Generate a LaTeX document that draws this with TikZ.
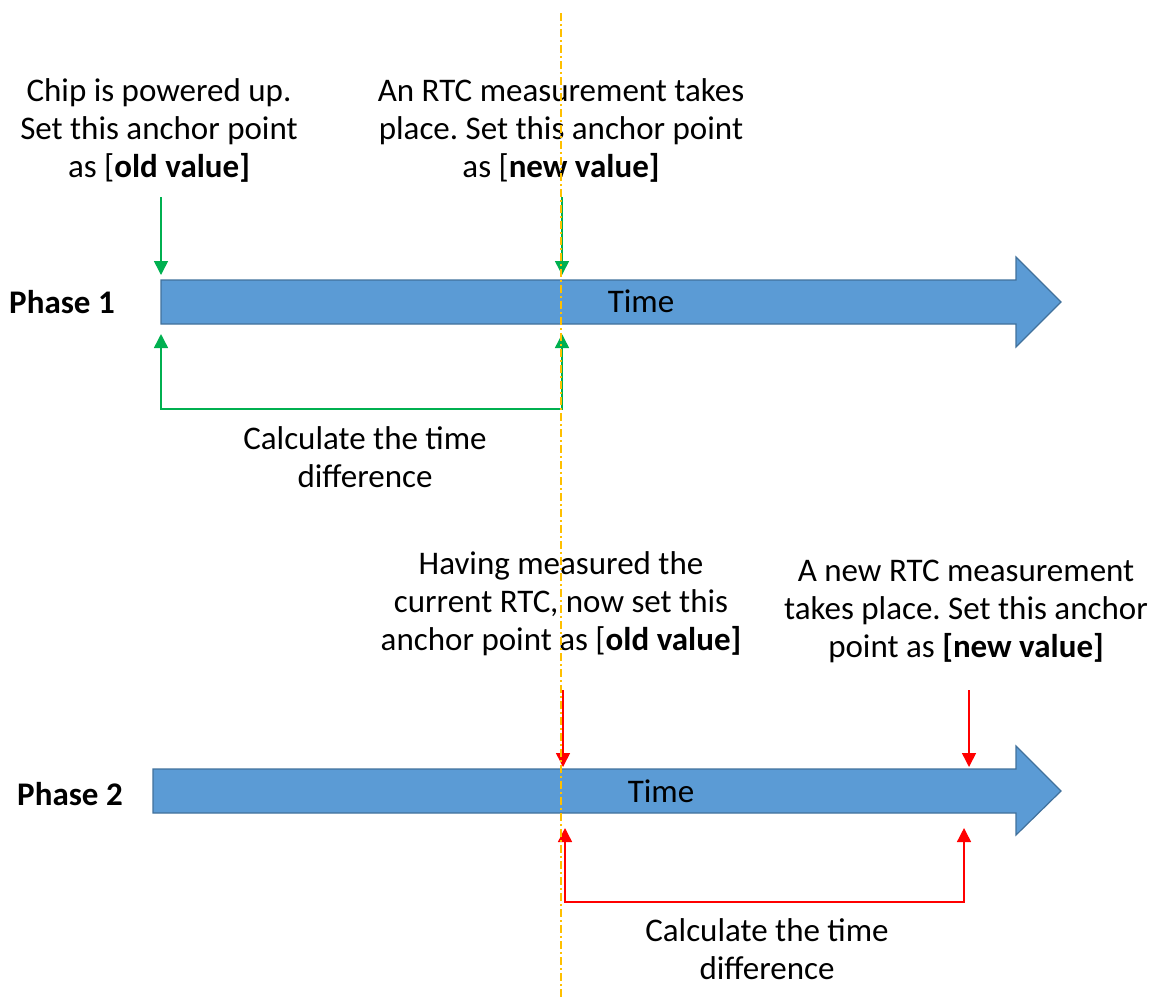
\documentclass[tikz,border=0pt]{standalone}
\usepackage{fontspec}
\setmainfont{Carlito}
\frenchspacing
\definecolor{officeblue}{RGB}{91,155,213}
\definecolor{officeedge}{RGB}{65,113,156}
\definecolor{markgreen}{RGB}{0,176,80}
\definecolor{markred}{RGB}{255,0,0}
\definecolor{nowgold}{RGB}{255,192,0}
\usetikzlibrary{arrows.meta}
\newcommand\notefont{\fontsize{16.5}{19}\selectfont}
\tikzset{
  timebar/.style={fill=officeblue, draw=officeedge, line width=0.6pt},
  note/.style={align=center, inner sep=0pt, font=\notefont},
  phase/.style={inner sep=0pt, font=\notefont\bfseries},
  greenline/.style={draw=markgreen, line width=0.75pt},
  redline/.style={draw=markred, line width=0.75pt},
  tip/.style={-{Triangle[width=7pt,length=7pt]}},
  twotips/.style={{Triangle[width=7pt,length=7pt]}-{Triangle[width=7pt,length=7pt]}},
  nowline/.style={draw=nowgold, line width=0.8pt, dash pattern=on 4pt off 1.5pt on 1pt off 1.5pt}
}

\begin{document}
\begin{tikzpicture}[x=0.5pt, y=-0.5pt]
  \useasboundingbox (0,0) rectangle (1149,998);

  % phase 1
  \draw [timebar] (161,280) -- (1016,280) -- (1016,257) -- (1061,302)
    -- (1016,347) -- (1016,324) -- (161,324) -- cycle;
  \node [phase, anchor=base] (phase1) at (62,313) {Phase 1};
  \node [note, anchor=base] (time1) at (641,312) {Time};

  % base anchor sits on the last line
  \node [note, anchor=base] (chip) at (159,177)
    {Chip is powered up.\\Set this anchor point\\as [\textbf{old value]}};
  \node [note, anchor=base] (rtc1) at (561,177)
    {An RTC measurement takes\\place. Set this anchor point\\as [\textbf{new value]}};
  \node [note, anchor=base] (calc1) at (365,487) {Calculate the time\\difference};

  \coordinate (oldtop1) at (161,197);
  \coordinate (oldhit1) at (161,275);
  \coordinate (newtop1) at (562,197);
  \coordinate (newhit1) at (562,275);
  \coordinate (oldback1) at (161,334);
  \coordinate (oldfoot1) at (161,409);
  \coordinate (newfoot1) at (562,409);
  \coordinate (newback1) at (562,334);

  \draw [greenline, tip] (oldtop1) -- (oldhit1);
  \draw [greenline, tip] (newtop1) -- (newhit1);
  \draw [greenline, twotips] (oldback1) -- (oldfoot1) -- (newfoot1) -- (newback1);

  % phase 2
  \draw [timebar] (153,769) -- (1016,769) -- (1016,746) -- (1061,791)
    -- (1016,835) -- (1016,813) -- (153,813) -- cycle;
  \node [phase, anchor=base] (phase2) at (70,805) {Phase 2};
  \node [note, anchor=base] (time2) at (661,802) {Time};

  \node [note, anchor=base] (having) at (561,650)
    {Having measured the\\current RTC, now set this\\anchor point as [\textbf{old value]}};
  \node [note, anchor=base] (rtc2) at (966,657)
    {A new RTC measurement\\takes place. Set this anchor\\point as \textbf{[new value]}};
  \node [note, anchor=base] (calc2) at (767,979) {Calculate the time\\difference};

  \coordinate (oldtop2) at (563,690);
  \coordinate (oldhit2) at (563,767);
  \coordinate (newtop2) at (969,690);
  \coordinate (newhit2) at (969,767);
  \coordinate (oldback2) at (565,828);
  \coordinate (oldfoot2) at (565,902);
  \coordinate (newfoot2) at (964,902);
  \coordinate (newback2) at (964,828);

  \draw [redline, tip] (oldtop2) -- (oldhit2);
  \draw [redline, tip] (newtop2) -- (newhit2);
  \draw [redline, twotips] (oldback2) -- (oldfoot2) -- (newfoot2) -- (newback2);

  % now
  \coordinate (nowtop) at (561,13);
  \coordinate (nowbottom) at (561,998);
  \draw [nowline] (nowtop) -- (nowbottom);
\end{tikzpicture}
\end{document}
